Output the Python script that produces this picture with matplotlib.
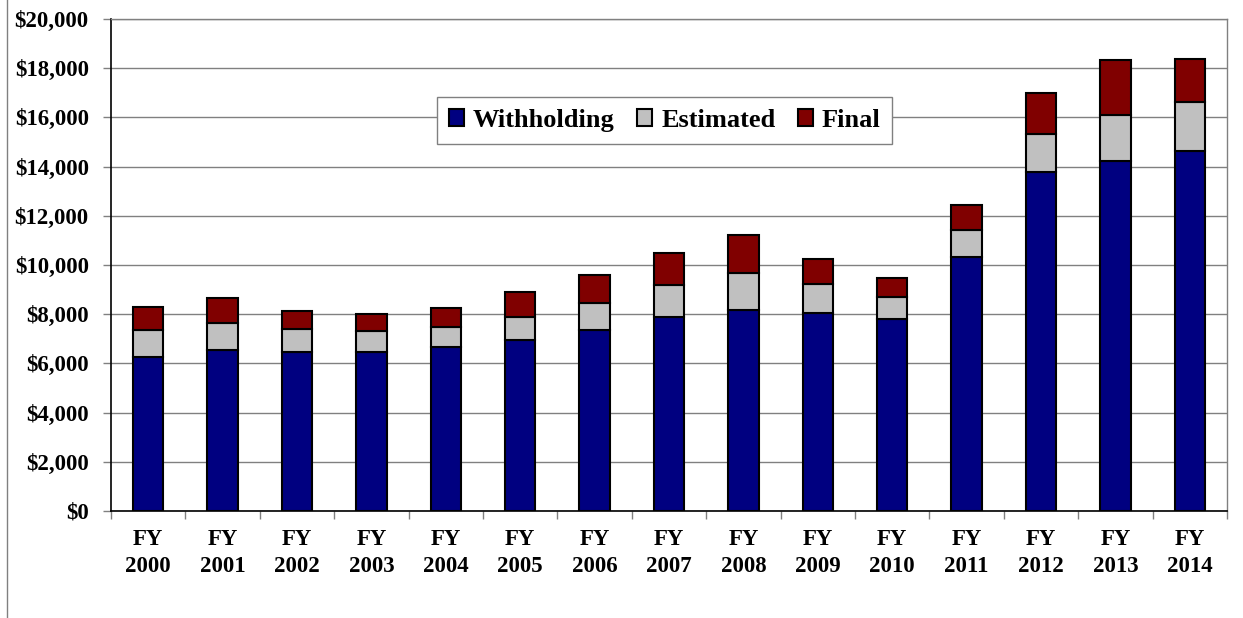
import matplotlib
matplotlib.use("Agg")
import matplotlib.pyplot as plt
from matplotlib.lines import Line2D
import numpy as np

# Fiscal years and revenue components (millions of dollars)
years = ["2000", "2001", "2002", "2003", "2004", "2005", "2006", "2007",
         "2008", "2009", "2010", "2011", "2012", "2013", "2014"]
withholding = [6270, 6540, 6480, 6460, 6670, 6960, 7360, 7890,
               8180, 8060, 7820, 10330, 13780, 14240, 14630]
estimated = [1080, 1100, 930, 860, 820, 940, 1110, 1310,
             1490, 1150, 880, 1090, 1560, 1850, 1980]
final = [950, 1020, 720, 690, 760, 990, 1140, 1300,
         1540, 1030, 780, 1020, 1660, 2260, 1760]

labels = [f"FY\n{y}" for y in years]
series_names = ["Withholding", "Estimated", "Final"]
colors = ["#000080", "#C0C0C0", "#800000"]

plt.rcParams["font.family"] = ["Liberation Serif", "DejaVu Serif"]
plt.rcParams["font.weight"] = "bold"

fig = plt.figure(figsize=(12.43, 6.18), dpi=100)
ax = fig.add_axes([111 / 1243, 1 - 511 / 618, (1227 - 111) / 1243, (511 - 19) / 618])

x = np.arange(len(years))
bw = 0.41
bottom = np.zeros(len(years))
handles = []
for name, vals, col in zip(series_names, [withholding, estimated, final], colors):
    v = np.array(vals, dtype=float)
    bars = ax.bar(x, v, bw, bottom=bottom, color=col, edgecolor="black",
                  linewidth=1.5, label=name, zorder=3)
    bottom += v
    handles.append(bars)

ax.set_xlim(-0.5, len(years) - 0.5)
ax.set_ylim(0, 20000)
ax.set_yticks(np.arange(0, 20001, 2000))
ax.set_yticklabels([f"${v:,.0f}" for v in np.arange(0, 20001, 2000)],
                   fontsize=16.5, fontweight="bold")
ax.yaxis.grid(True, color="#808080", linewidth=1.0, zorder=0)
ax.set_axisbelow(True)

ax.set_xticks(x)
ax.set_xticklabels(labels, fontsize=16.5, fontweight="bold", linespacing=1.35)
ax.set_xticks(np.arange(-0.5, len(years), 1.0), minor=True)
ax.tick_params(axis="x", which="major", length=0, pad=13)
ax.tick_params(axis="x", which="minor", length=6, color="#808080", width=1)
ax.tick_params(axis="y", length=6, color="#808080", width=1, pad=10)

for side in ("top", "right"):
    ax.spines[side].set_color("#808080")
    ax.spines[side].set_linewidth(1.0)
for side in ("left", "bottom"):
    ax.spines[side].set_color("black")
    ax.spines[side].set_linewidth(1.2)

leg = ax.legend(handles=handles, loc="upper left",
                bbox_to_anchor=((437 - 111) / (1227 - 111), (511 - 97) / (511 - 19)),
                ncol=3, frameon=True, fancybox=False, framealpha=1,
                edgecolor="#808080", fontsize=19, handlelength=0.58,
                handleheight=0.58, handletextpad=0.33, columnspacing=0.85,
                borderpad=0.45, borderaxespad=0)
for t in leg.get_texts():
    t.set_fontweight("bold")
leg.get_frame().set_linewidth(1.0)

# left border of the figure frame
fig.add_artist(Line2D([7 / 1243, 7 / 1243], [0, 1], color="#808080",
                      linewidth=1.0, transform=fig.transFigure))

fig.savefig("out.png", dpi=100)
